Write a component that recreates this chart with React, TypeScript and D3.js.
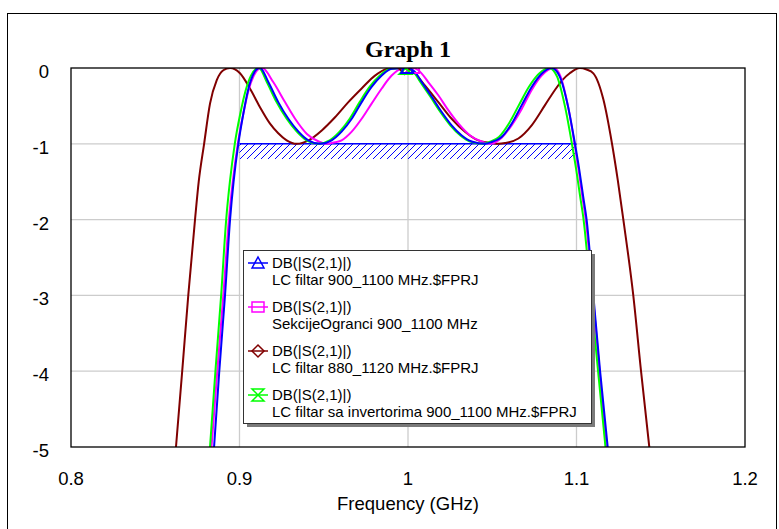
import React from "react";
import * as d3 from "d3";

const title = "Graph 1";
const xTitle = "Frequency (GHz)";
const xTicks = [0.8, 0.9, 1, 1.1, 1.2];
const yTicks = [0, -1, -2, -3, -4, -5];

// LC filtar 900_1100 MHz (blue)
const lc900Freq = [0.8849, 0.888, 0.8914, 0.8944, 0.8965, 0.8993, 0.9023, 0.905, 0.9078, 0.91, 0.9122, 0.9171, 0.923, 0.929, 0.935, 0.9408, 0.9478, 0.9547, 0.9606, 0.9666, 0.9725, 0.9784, 0.9844, 0.9903, 0.9995, 1.004, 1.0081, 1.0141, 1.02, 1.0259, 1.0319, 1.0378, 1.0457, 1.0497, 1.0556, 1.0615, 1.0675, 1.0734, 1.0793, 1.0853, 1.09, 1.095, 1.099, 1.1017, 1.104, 1.106, 1.11, 1.114, 1.1185];
const lc900Db = [-5, -4, -3, -2, -1.5, -1, -0.6, -0.3, -0.1, -0.02, 0, -0.185, -0.45, -0.67, -0.84, -0.954, -1, -0.954, -0.84, -0.67, -0.45, -0.25, -0.1, -0.01, 0, -0.05, -0.185, -0.38, -0.58, -0.756, -0.89, -0.97, -1, -0.976, -0.91, -0.735, -0.49, -0.25, -0.075, 0, -0.11, -0.51, -0.99, -1.35, -1.7, -2, -3, -4, -5];

// SekcijeOgranci 900_1100 MHz (magenta)
const sekcijeFreq = [0.8834, 0.8868, 0.8904, 0.8937, 0.896, 0.899, 0.9023, 0.9053, 0.9085, 0.911, 0.9135, 0.92, 0.927, 0.933, 0.94, 0.947, 0.9517, 0.9567, 0.9606, 0.9666, 0.9725, 0.9784, 0.9844, 0.9903, 0.9963, 1.003, 1.0062, 1.012, 1.018, 1.024, 1.03, 1.0368, 1.0437, 1.0487, 1.0556, 1.0615, 1.0675, 1.0734, 1.0793, 1.0865, 1.0905, 1.095, 1.0988, 1.1013, 1.1035, 1.1055, 1.1097, 1.1137, 1.1175];
const sekcijeDb = [-5, -4, -3, -2, -1.5, -1, -0.6, -0.3, -0.1, -0.02, 0, -0.185, -0.45, -0.67, -0.87, -0.97, -1, -0.98, -0.954, -0.84, -0.67, -0.47, -0.27, -0.1, -0.01, 0, -0.03, -0.185, -0.36, -0.56, -0.735, -0.89, -0.97, -1, -0.92, -0.756, -0.54, -0.29, -0.1, 0, -0.11, -0.51, -0.99, -1.35, -1.7, -2, -3, -4, -5];

// LC filtar 880_1120 MHz (maroon)
const lc880Freq = [0.8623, 0.866, 0.8696, 0.8736, 0.8758, 0.879, 0.8825, 0.8865, 0.8904, 0.8944, 0.9003, 0.9062, 0.912, 0.918, 0.923, 0.928, 0.934, 0.941, 0.949, 0.9567, 0.9646, 0.9725, 0.9804, 0.9883, 0.998, 1.0022, 1.01, 1.018, 1.0259, 1.0338, 1.0417, 1.0497, 1.0536, 1.0576, 1.0655, 1.0734, 1.0813, 1.0872, 1.092, 1.096, 1.102, 1.106, 1.11, 1.116, 1.121, 1.1245, 1.1278, 1.1337, 1.1383, 1.1432];
const lc880Db = [-5, -4, -3, -2, -1.5, -1, -0.47, -0.16, -0.03, 0, -0.07, -0.27, -0.51, -0.73, -0.86, -0.954, -1, -0.954, -0.82, -0.65, -0.45, -0.27, -0.1, -0.01, 0, -0.03, -0.23, -0.45, -0.67, -0.84, -0.954, -0.99, -1, -0.99, -0.93, -0.756, -0.49, -0.29, -0.15, -0.07, 0, -0.02, -0.07, -0.42, -0.99, -1.48, -2, -3, -4, -5];

// LC filtar sa invertorima 900_1100 MHz (green)
const invertFreq = [0.8825, 0.8857, 0.8891, 0.8921, 0.8943, 0.8972, 0.9005, 0.9036, 0.9068, 0.9093, 0.9115, 0.9162, 0.922, 0.928, 0.934, 0.9398, 0.9468, 0.9535, 0.9594, 0.9654, 0.9713, 0.9772, 0.9833, 0.9893, 0.9985, 1.0032, 1.0073, 1.0133, 1.0192, 1.0251, 1.0311, 1.0368, 1.0445, 1.0483, 1.054, 1.0598, 1.0658, 1.0717, 1.0777, 1.0838, 1.0884, 1.0932, 1.0972, 1.0999, 1.1022, 1.1042, 1.1085, 1.1128, 1.1172];
const invertDb = [-5, -4, -3, -2, -1.5, -1, -0.6, -0.3, -0.1, -0.02, 0, -0.185, -0.45, -0.67, -0.84, -0.954, -1, -0.954, -0.84, -0.67, -0.45, -0.25, -0.1, -0.01, 0, -0.05, -0.185, -0.38, -0.58, -0.756, -0.89, -0.97, -1, -0.976, -0.91, -0.735, -0.49, -0.25, -0.075, 0, -0.11, -0.51, -0.99, -1.35, -1.7, -2, -3, -4, -5];

// spec line: -1 dB between 0.9 and 1.1 GHz, hatched down to -1.2
const specFreq = [0.9, 1.1];
const specDb = [-1, -1.2];

const legendNames = [
  "LC filtar 900_1100 MHz.$FPRJ",
  "SekcijeOgranci 900_1100 MHz",
  "LC filtar 880_1120 MHz.$FPRJ",
  "LC filtar sa invertorima 900_1100 MHz.$FPRJ",
];
const measName = "DB(|S(2,1)|)";

const series = [
  { freq: lc900Freq, db: lc900Db, color: "#0000ff", symbol: "triangle" },
  { freq: sekcijeFreq, db: sekcijeDb, color: "#ff00ff", symbol: "square" },
  { freq: lc880Freq, db: lc880Db, color: "#800000", symbol: "diamond" },
  { freq: invertFreq, db: invertDb, color: "#00ff00", symbol: "hourglass" },
];
const drawOrder = [2, 1, 3, 0];

const W = 779;
const H = 529;
const margin = { top: 68, right: 34, bottom: 82, left: 71 };
const font = "'Liberation Sans', Arial, sans-serif";

function symbolPath(kind: string, cx: number, cy: number) {
  const s = 6;
  if (kind === "triangle") return `M${cx - s},${cy + 5}L${cx},${cy - s}L${cx + s},${cy + 5}Z`;
  if (kind === "square") return `M${cx - s},${cy - 5}H${cx + s}V${cy + 5}H${cx - s}Z`;
  if (kind === "diamond") return `M${cx - s},${cy}L${cx},${cy - s}L${cx + s},${cy}L${cx},${cy + s}Z`;
  return `M${cx - s},${cy - s}H${cx + s}L${cx - s},${cy + s}H${cx + s}Z`;
}

export default function App() {
  const x = d3.scaleLinear().domain([0.8, 1.2]).range([margin.left, W - margin.right]);
  const y = d3.scaleLinear().domain([-5, 0]).range([H - margin.bottom, margin.top]);
  const line = d3
    .line<[number, number]>()
    .x((d) => x(d[0]))
    .y((d) => y(d[1]))
    .curve(d3.curveMonotoneX);

  const [x0, x1] = x.range();
  const [yb, yt] = y.range();

  const lg = { x: 243, y: 250, w: 348, h: 173 };

  return (
    <svg
      width={W}
      height={H}
      style={{ position: "absolute", left: 0, top: 0, background: "#fff" }}
      fontFamily={font}
    >
      <defs>
        <clipPath id="plotClip">
          <rect x={x0} y={yt} width={x1 - x0} height={yb - yt} />
        </clipPath>
        <pattern id="hatch" patternUnits="userSpaceOnUse" width={7} height={7}>
          <path d="M-1,8L8,-1" stroke="#0000ff" strokeWidth={1} />
        </pattern>
      </defs>

      <rect x={7.5} y={13.5} width={769} height={530} fill="#fff" stroke="#000" strokeWidth={1} />

      <text x={(x0 + x1) / 2} y={57} textAnchor="middle" fontFamily="'Liberation Serif', 'Times New Roman', serif" fontWeight="bold" fontSize={24}>
        {title}
      </text>

      {/* grid */}
      {xTicks.slice(1, -1).map((t) => (
        <line key={"gx" + t} x1={x(t)} x2={x(t)} y1={yt} y2={yb} stroke="#cccccc" strokeWidth={1.3} />
      ))}
      {yTicks.slice(1, -1).map((t) => (
        <line key={"gy" + t} x1={x0} x2={x1} y1={y(t)} y2={y(t)} stroke="#cccccc" strokeWidth={1.3} />
      ))}

      {/* spec hatch */}
      <g clipPath="url(#plotClip)">
        <rect
          x={x(specFreq[0])}
          y={y(specDb[0])}
          width={x(specFreq[1]) - x(specFreq[0])}
          height={y(specDb[1]) - y(specDb[0])}
          fill="url(#hatch)"
        />
        <line x1={x(specFreq[0])} x2={x(specFreq[1])} y1={y(specDb[0])} y2={y(specDb[0])} stroke="#0000ff" strokeWidth={1.5} />
      </g>

      {/* traces */}
      <g clipPath="url(#plotClip)">
        {drawOrder.map((i) => {
          const s = series[i];
          const pts = s.freq.map((f, k) => [f, s.db[k]] as [number, number]);
          return <path key={"tr" + i} d={line(pts) || ""} fill="none" stroke={s.color} strokeWidth={2} />;
        })}
        {drawOrder.map((i) => {
          const s = series[i];
          const k = d3.minIndex(s.freq, (f) => Math.abs(f - 1));
          return (
            <path key={"mk" + i} d={symbolPath(s.symbol, x(s.freq[k]), y(s.db[k]))} fill="none" stroke={s.color} strokeWidth={2} />
          );
        })}
      </g>

      <rect x={x0} y={yt} width={x1 - x0} height={yb - yt} fill="none" stroke="#000" strokeWidth={1.3} />

      {/* axis labels */}
      {yTicks.map((t) => (
        <text key={"yl" + t} x={49} y={y(t) + 10} textAnchor="end" fontSize={18.5}>
          {t}
        </text>
      ))}
      {xTicks.map((t) => (
        <text key={"xl" + t} x={x(t)} y={485} textAnchor="middle" fontSize={18.5}>
          {String(t)}
        </text>
      ))}
      <text x={(x0 + x1) / 2} y={510} textAnchor="middle" fontSize={18.5}>
        {xTitle}
      </text>

      {/* legend */}
      <rect x={lg.x + 4} y={lg.y + 4} width={lg.w} height={lg.h} fill="#7a7a7a" />
      <rect x={lg.x + 0.5} y={lg.y + 0.5} width={lg.w} height={lg.h} fill="#fff" stroke="#333" strokeWidth={1} />
      {series.map((s, i) => {
        const base = lg.y + 18 + i * 44;
        const cy = base - 5;
        return (
          <g key={"lg" + i}>
            <line x1={lg.x + 5} x2={lg.x + 25} y1={cy} y2={cy} stroke={s.color} strokeWidth={1.5} />
            <path d={symbolPath(s.symbol, lg.x + 15, cy)} fill="none" stroke={s.color} strokeWidth={1.5} />
            <text x={lg.x + 29} y={base} fontSize={15}>
              {measName}
            </text>
            <text x={lg.x + 29} y={base + 17} fontSize={15}>
              {legendNames[i]}
            </text>
          </g>
        );
      })}
    </svg>
  );
}
